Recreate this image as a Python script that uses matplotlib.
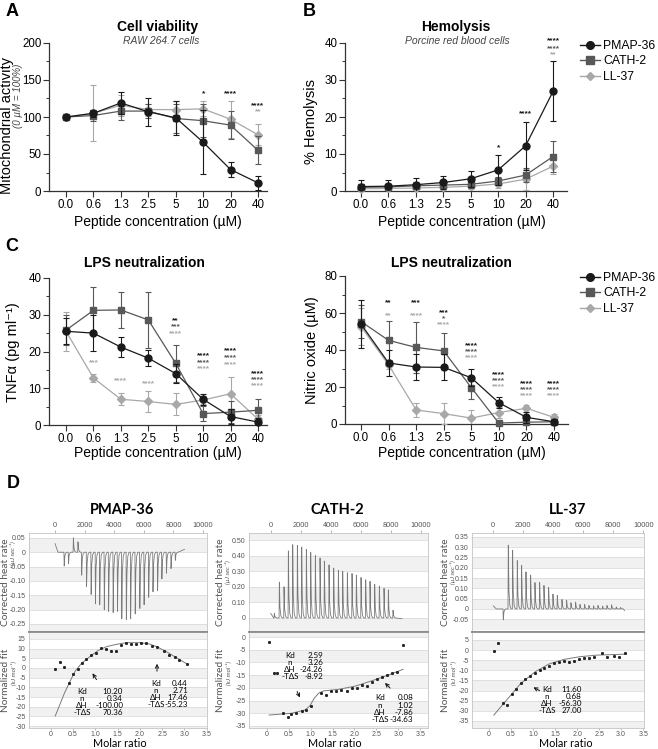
import numpy as np
import matplotlib
matplotlib.use('Agg')
from matplotlib import pyplot as plt
from matplotlib.lines import Line2D
from matplotlib.patches import FancyArrowPatch

W, H = 658, 749
FONT = ['Liberation Sans', 'DejaVu Sans']
ITC_FONT = ['Lato', 'DejaVu Sans']
plt.rcParams['font.family'] = FONT

conc = ['0.0', '0.6', '1.3', '2.5', '5', '10', '20', '40']
peptides = ['PMAP-36', 'CATH-2', 'LL-37']
colors = ['#1a1a1a', '#585858', '#a8a8a8']
markers = ['o', 's', 'D']
msizes = [5, 5, 4]

# A - cell viability, RAW 264.7 (% of 0 uM)
via_pmap = [100, 105, 119, 107, 99, 66, 29, 11]
via_pmap_err = [2, 5, 15, 19, 23, 43, 10, 9]
via_cath = [100, 102, 108, 108, 98, 95, 89, 55]
via_cath_err = [2, 8, 12, 10, 20, 22, 19, 19]
via_ll = [100, 105, 116, 110, 110, 111, 97, 76]
via_ll_err = [2, 38, 14, 8, 11, 10, 25, 14]

# B - hemolysis (%)
hem_pmap = [1.2, 1.3, 1.7, 2.3, 3.3, 5.7, 12.2, 26.9]
hem_pmap_err = [1.7, 1.6, 1.9, 1.7, 2.1, 4.1, 6.4, 8.1]
hem_cath = [1.0, 1.1, 1.4, 1.6, 1.8, 2.7, 4.3, 9.3]
hem_cath_err = [0.8, 0.8, 0.9, 0.9, 1.0, 1.2, 1.8, 4.2]
hem_ll = [0.6, 0.7, 0.8, 1.0, 1.3, 1.9, 3.2, 6.7]
hem_ll_err = [0.5, 0.5, 0.6, 0.6, 0.8, 1.0, 2.8, 2.0]

# C - TNF-alpha (pg/ml)
tnf_pmap = [25.5, 25.0, 21.2, 18.2, 14.0, 7.0, 2.3, 0.8]
tnf_pmap_err = [3.5, 4.9, 2.8, 2.1, 2.6, 1.5, 2.0, 1.0]
tnf_cath = [25.8, 31.2, 31.3, 28.6, 16.8, 3.1, 3.5, 4.0]
tnf_cath_err = [4.0, 6.4, 5.0, 7.7, 5.0, 2.0, 3.0, 3.0]
tnf_ll = [25.5, 12.8, 7.0, 6.4, 5.6, 6.8, 8.5, 1.6]
tnf_ll_err = [5.3, 1.1, 1.6, 2.9, 3.0, 1.2, 4.6, 1.0]

# C - nitric oxide (uM)
no_pmap = [54.0, 33.0, 30.8, 30.6, 25.0, 11.5, 3.6, 1.2]
no_pmap_err = [13.0, 7.0, 7.0, 7.0, 4.7, 3.0, 3.0, 1.0]
no_cath = [55.4, 45.2, 41.4, 39.5, 19.7, 0.5, 1.0, 1.2]
no_cath_err = [9.0, 10.4, 13.6, 9.7, 6.0, 1.0, 1.0, 1.0]
no_ll = [52.7, 32.0, 7.6, 5.6, 3.2, 6.2, 8.5, 3.6]
no_ll_err = [10.0, 2.0, 3.8, 5.7, 4.3, 3.0, 1.8, 1.6]

# significance marks: (concentration index, y value, text, peptide index)
stars_via = [(5, 132, '*', 0), (6, 132, '****', 0), (7, 115, '****', 0), (7, 107, '**', 2)]
stars_hem = [(5, 11.8, '*', 0), (6, 21.0, '****', 0), (7, 40.5, '****', 0),
             (7, 38.5, '****', 1), (7, 36.7, '**', 2)]
stars_tnf = [(1, 17.0, '***', 2), (2, 12.1, '****', 2), (3, 11.1, '****', 2),
             (4, 28.5, '**', 0), (4, 26.7, '***', 1), (4, 24.9, '****', 2),
             (5, 18.8, '****', 0), (5, 17.0, '****', 1), (5, 15.2, '****', 2),
             (6, 20.1, '****', 0), (6, 18.3, '****', 1), (6, 16.5, '****', 2),
             (7, 13.9, '****', 0), (7, 12.3, '****', 1), (7, 10.6, '****', 2)]
stars_no = [(1, 65.6, '**', 0), (1, 58.5, '**', 2),
            (2, 65.6, '***', 0), (2, 58.5, '****', 2),
            (3, 59.9, '***', 0), (3, 56.7, '*', 1), (3, 53.4, '****', 2),
            (4, 42.3, '****', 0), (4, 39.0, '****', 1), (4, 35.8, '****', 2),
            (5, 26.8, '****', 0), (5, 23.6, '****', 1), (5, 20.3, '****', 2),
            (6, 21.8, '****', 0), (6, 18.5, '****', 1), (6, 15.3, '****', 2),
            (7, 21.8, '****', 0), (7, 18.5, '****', 1), (7, 15.3, '****', 2)]

# D - ITC raw thermograms: injection time (s) and peak height (uJ/s)
pmap_inj_t = [620, 910, 1240, 1550, 1800, 2130, 2440, 2730, 3020, 3330, 3620, 3930, 4220,
              4510, 4820, 5110, 5420, 5730, 6020, 6330, 6620, 6930, 7220, 7530, 7840, 8130]
pmap_inj_peak = [-0.048, -0.04, 0.05, 0.036, -0.08, -0.12, -0.147, -0.18, -0.183, -0.2,
                 -0.206, -0.21, -0.206, -0.232, -0.235, -0.232, -0.215, -0.196, -0.183,
                 -0.157, -0.138, -0.134, -0.093, -0.073, -0.057, -0.028]
cath_inj_t = [244, 578, 889, 1178, 1467, 1778, 2067, 2378, 2667, 2978, 3289, 3578, 3889,
              4200, 4511, 4800, 5111, 5422, 5711, 6022, 6333, 6622, 6933, 7244, 7556,
              7844, 8156]
cath_inj_peak = [0.03, 0.23, 0.20, 0.43, 0.47, 0.465, 0.455, 0.44, 0.42, 0.40, 0.385,
                 0.365, 0.34, 0.32, 0.305, 0.30, 0.29, 0.285, 0.275, 0.26, 0.245, 0.235,
                 0.215, 0.205, 0.19, 0.18, 0.05]
ll_inj_t = [667, 1000, 1289, 1600, 1889, 2178, 2489, 2778, 3089, 3378, 3689, 3978, 4267,
            4578, 4889, 5178, 5489, 5778, 6089, 6378, 6689, 6978, 7289, 7578, 7889, 8200,
            8489]
ll_inj_peak = [-0.053, 0.31, 0.285, 0.235, 0.212, 0.18, 0.165, 0.128, 0.13, 0.114, 0.105,
               0.072, 0.066, 0.046, 0.042, 0.03, 0.033, 0.022, 0.022, 0.017, 0.015, 0.017,
               0.014, 0.017, 0.02, 0.01, 0.008]

# D - normalized fit: molar ratio vs heat (kJ/mol), and fitted curve
pmap_mr = [0.10, 0.20, 0.29, 0.41, 0.50, 0.60, 0.69, 0.80, 0.90, 1.01, 1.12, 1.23, 1.35,
           1.46, 1.57, 1.68, 1.80, 1.91, 2.02, 2.13, 2.28, 2.39, 2.54, 2.66, 2.78, 2.89, 3.06]
pmap_q = [-0.7, 3.3, 0.7, -7.9, -3.1, -0.5, 2.4, 4.5, 6.7, 7.6, 10.2, 9.7, 9.0, 8.8, 11.9,
          12.8, 12.4, 12.4, 12.8, 12.8, 11.4, 10.7, 9.0, 6.7, 5.9, 4.1, 2.1]
pmap_fit_x = [0.10, 0.20, 0.31, 0.41, 0.54, 0.69, 0.88, 1.06, 1.25, 1.47, 1.70, 2.00, 2.22,
              2.41, 2.60, 2.78, 3.06]
pmap_fit_y = [-24.8, -19.1, -12.8, -7.9, -1.9, 2.4, 5.9, 9.0, 11.0, 12.2, 13.1, 13.1, 12.4,
              10.7, 8.4, 5.9, 2.1]
cath_mr = [0.05, 0.16, 0.24, 0.36, 0.47, 0.56, 0.66, 0.79, 0.89, 1.01, 1.24, 1.35, 1.47,
           1.58, 1.69, 1.82, 1.94, 2.05, 2.17, 2.28, 2.40, 2.51, 2.63, 2.74, 2.85, 2.97, 3.11]
cath_q = [-2.1, -14.3, -14.3, -30.0, -31.3, -30.3, -30.0, -29.0, -28.7, -27.1, -22.1, -23.0,
          -21.1, -21.1, -20.8, -21.2, -20.2, -19.9, -18.9, -19.3, -17.6, -16.6, -15.6, -14.9,
          -14.3, -13.6, -3.1]
cath_fit_x = [0.05, 0.56, 0.87, 0.98, 1.08, 1.18, 1.29, 1.63, 2.02, 2.40, 2.78, 3.11]
cath_fit_y = [-30.7, -30.0, -28.7, -27.1, -24.1, -22.1, -21.2, -20.6, -19.3, -17.2, -14.9, -12.7]
ll_mr = [0.11, 0.21, 0.31, 0.40, 0.52, 0.61, 0.72, 0.82, 0.93, 1.05, 1.16, 1.26, 1.36, 1.48,
         1.59, 1.70, 1.82, 1.93, 2.05, 2.16, 2.28, 2.39, 2.56, 2.69, 2.83, 2.95, 3.08]
ll_q = [-0.3, 3.6, -26.3, -27.2, -21.7, -19.4, -16.5, -14.5, -12.8, -11.2, -9.9, -8.7, -7.7,
        -6.6, -5.8, -5.4, -5.8, -5.3, -4.6, -4.1, -4.1, -3.6, -1.6, -3.3, -3.0, -3.6, -1.2]
ll_fit_x = [0.11, 0.40, 0.72, 1.05, 1.36, 1.70, 2.05, 2.43, 3.08]
ll_fit_y = [-32.1, -24.7, -16.5, -10.7, -6.9, -4.6, -3.3, -2.5, -2.0]

stat_names = ['Kd', 'n', '\u0394H', '-T\u0394S']
pmap_site1 = ['10.20', '0.34', '-100.00', '70.36']
pmap_site2 = ['0.44', '2.71', '17.46', '-55.23']
cath_site1 = ['2.59', '3.26', '-24.26', '-8.92']
cath_site2 = ['0.08', '1.02', '-7.86', '-34.63']
ll_site1 = ['11.60', '0.68', '-56.30', '27.00']

fig = plt.figure(figsize=(W / 100, H / 100), dpi=100)


def rect(l, t, r, b):
    return [l / W, 1 - b / H, (r - l) / W, (b - t) / H]


def ftext(x, y, s, **kw):
    fig.text(x / W, 1 - y / H, s, **kw)


def fxy(x, y):
    return (x / W, 1 - y / H)


def conc_panel(box, xlim, ylim, ytop, major, minor, means, errs, stars):
    ax = fig.add_axes(rect(*box))
    x = np.arange(len(conc))
    for i in (2, 1, 0):
        cont = ax.errorbar(x, means[i], yerr=errs[i], color=colors[i], marker=markers[i],
                           ms=msizes[i], lw=0.9, elinewidth=0.8, capsize=2.4,
                           capthick=0.8, zorder=5 - i)
        cont[0].set_clip_on(False)
    for xi, yv, s, i in stars:
        ax.text(xi, yv, s, color=colors[i], fontsize=6, ha='center', va='center',
                fontweight='bold')
    ax.set_xlim(*xlim)
    ax.set_ylim(*ylim)
    ax.spines[['top', 'right']].set_visible(False)
    for s in ('left', 'bottom'):
        ax.spines[s].set_linewidth(0.9)
        ax.spines[s].set_color('#333333')
    ax.spines['left'].set_bounds(0, ytop)
    ax.set_xticks(x, conc)
    ax.set_yticks(np.arange(0, ytop + 1, major))
    ax.set_yticks(np.arange(0, ytop + 1, minor), minor=True)
    ax.tick_params(labelsize=8.3, length=4, width=0.8, color='#333333', pad=1.5)
    ax.tick_params(which='minor', length=2.5, width=0.7, color='#333333')
    return ax


# ---- A ----
conc_panel((49, 43, 267, 191), (-0.62, 7.33), (0, 200), 200, 50, 25,
           [via_pmap, via_cath, via_ll], [via_pmap_err, via_cath_err, via_ll_err], stars_via)
ftext(158, 27, 'Cell viability', fontsize=10, fontweight='bold', ha='center', va='center')
ftext(161, 41, 'RAW 264.7 cells', fontsize=7.5, style='italic', color='#444444',
      ha='center', va='center')
ftext(7.5, 126, 'Mitochondrial activity', fontsize=10.5, rotation=90, ha='center',
      va='center')
ftext(18, 96, '(0 \u00b5M = 100%)', fontsize=7, style='italic', rotation=90,
      color='#444444', ha='center', va='center')
ftext(158, 222, 'Peptide concentration (\u00b5M)', fontsize=10, ha='center', va='center')

# ---- B ----
conc_panel((345, 43 - 2 * 3.7, 567, 191), (-0.58, 7.51), (0, 42), 40, 10, 5,
           [hem_pmap, hem_cath, hem_ll], [hem_pmap_err, hem_cath_err, hem_ll_err], stars_hem)
ftext(456, 27, 'Hemolysis', fontsize=10, fontweight='bold', ha='center', va='center')
ftext(457, 41, 'Porcine red blood cells', fontsize=7.5, style='italic', color='#444444',
      ha='center', va='center')
ftext(311, 122, '% Hemolysis', fontsize=10.5, rotation=90, ha='center', va='center')
ftext(462, 222, 'Peptide concentration (\u00b5M)', fontsize=10, ha='center', va='center')

# ---- C ----
conc_panel((49, 278, 267, 425), (-0.62, 7.33), (0, 40), 40, 10, 5,
           [tnf_pmap, tnf_cath, tnf_ll], [tnf_pmap_err, tnf_cath_err, tnf_ll_err], stars_tnf)
ftext(144, 263, 'LPS neutralization', fontsize=10, fontweight='bold', ha='center', va='center')
ftext(13, 352, 'TNF\u03b1 (pg ml\u207b\u00b9)', fontsize=10.5, rotation=90, ha='center',
      va='center', family=FONT)
ftext(158, 453, 'Peptide concentration (\u00b5M)', fontsize=10, ha='center', va='center')

conc_panel((345, 276, 568, 424), (-0.58, 7.51), (0, 80), 80, 20, 10,
           [no_pmap, no_cath, no_ll], [no_pmap_err, no_cath_err, no_ll_err], stars_no)
ftext(451, 263, 'LPS neutralization', fontsize=10, fontweight='bold', ha='center', va='center')
ftext(312, 350, 'Nitric oxide (\u00b5M)', fontsize=10.5, rotation=90, ha='center', va='center')
ftext(462, 453, 'Peptide concentration (\u00b5M)', fontsize=10, ha='center', va='center')

handles = [Line2D([], [], color=colors[i], marker=markers[i], ms=msizes[i] + 0.5, lw=1.0)
           for i in range(3)]
for ytop in (40, 272):
    fig.legend(handles, peptides, loc='upper left', bbox_to_anchor=fxy(580, ytop),
               frameon=False, fontsize=8.8, handlelength=1.6, handletextpad=0.3,
               labelspacing=0.28, borderpad=0, borderaxespad=0)

for letter, x, y in (('A', 12, 11), ('B', 309, 11), ('C', 12, 247), ('D', 13, 484)):
    ftext(x, y, letter, fontsize=13, fontweight='bold', ha='center', va='center')


# ---- D: ITC ----
def band_axis(ax, ticks, labels, lim):
    step = ticks[1] - ticks[0]
    edges = [ticks[0] - step] + list(ticks) + [ticks[-1] + step]
    for k in range(0, len(edges) - 1, 2):
        ax.axhspan(edges[k], edges[k + 1], color='#f1f1f1', lw=0, zorder=0)
    for v in ticks:
        ax.axhline(v, color='#d6d6d6', lw=0.5, zorder=0.5)
    ax.set_ylim(*lim)
    ax.set_yticks(ticks, labels)
    ax.tick_params(axis='y', length=0, labelsize=5, labelcolor='#555555', pad=2.5)
    for s in ax.spines.values():
        s.set_color('#c4c4c4')
        s.set_linewidth(0.6)


def itc_panel(l, r, title, xcenter, top_xlim, top_lim, top_ticks, top_labels,
              inj_t, inj_peak, trace_start, trace_end,
              bot_xlim, bot_lim, bot_ticks, mr, q, fit_x, fit_y, sites, arrows,
              lab_x, sub_dx, sub_y):
    axt = fig.add_axes(rect(l, 533, r, 632))
    axb = fig.add_axes(rect(l, 632, r, 728))

    t = [0, 200]
    y = [trace_start, 0]
    for ti, p in zip(inj_t, inj_peak):
        t += [ti - 20, ti, ti + 40, ti + 100, ti + 180]
        y += [0, p, 0.3 * p, 0.06 * p, 0]
    t.append(8750)
    y.append(trace_end)
    axt.plot(t, y, color='#7a7a7a', lw=0.6, zorder=3)
    band_axis(axt, top_ticks, top_labels, top_lim)
    axt.set_xlim(*top_xlim)
    axt.xaxis.tick_top()
    axt.set_xticks(np.arange(0, 10001, 2000))
    axt.tick_params(axis='x', length=2, width=0.5, color='#999999', labelsize=5.3,
                    labelcolor='#555555', pad=1)
    axt.spines['bottom'].set_color('#8c8c8c')
    axt.spines['bottom'].set_linewidth(1.3)

    axb.plot(fit_x, fit_y, color='#7a7a7a', lw=0.7, zorder=3)
    axb.plot(mr, q, ls='none', marker='s', ms=1.1, color='#222222', zorder=4)
    band_axis(axb, bot_ticks, [f'{v:g}' for v in bot_ticks], bot_lim)
    axb.set_xlim(*bot_xlim)
    xt = np.arange(0, 3.6, 0.5)
    axb.set_xticks(xt, ['0'] + [f'{v:.1f}' for v in xt[1:]])
    axb.tick_params(axis='x', length=1.5, width=0.5, color='#999999', labelsize=5,
                    labelcolor='#555555', pad=1)
    axb.spines['top'].set_color('#8c8c8c')
    axb.spines['top'].set_linewidth(1.3)

    for vals, lx, vx, y0 in sites:
        for k, (nm, v) in enumerate(zip(stat_names, vals)):
            ftext(lx, y0 + 7.3 * k, nm, fontsize=5.8, ha='center', va='center',
                  family=ITC_FONT)
            ftext(vx, y0 + 7.3 * k, v, fontsize=5.8, ha='right', va='center',
                  family=ITC_FONT)
    for (x0, y0), (x1, y1) in arrows:
        fig.add_artist(FancyArrowPatch(
            fxy(x0, y0), fxy(x1, y1), transform=fig.transFigure, arrowstyle='->',
            mutation_scale=6, lw=0.7, color='#111111'))

    ftext(xcenter, 510, title, fontsize=10.5, fontweight='bold', ha='center',
          va='center', family=ITC_FONT)
    ftext(xcenter - 2, 749, 'Molar ratio', fontsize=7.8, ha='center', va='bottom',
          family=ITC_FONT)
    ftext(lab_x, 582, 'Corrected heat rate', fontsize=7.3, rotation=90, color='#555555',
          ha='center', va='center', family=ITC_FONT)
    ftext(lab_x + sub_dx, sub_y, '(\u00b5J sec\u207b\u00b9)', fontsize=4.6, rotation=90,
          style='italic', color='#555555', ha='center', va='center', family=ITC_FONT)
    ftext(lab_x, 680, 'Normalized fit', fontsize=7.3, rotation=90, color='#555555',
          ha='center', va='center', family=ITC_FONT)
    ftext(lab_x + sub_dx, 673, '(kJ mol\u207b\u00b9)', fontsize=4.6, rotation=90,
          style='italic', color='#555555', ha='center', va='center', family=ITC_FONT)


itc_panel(29, 207, 'PMAP-36', 122, (-1760, 10270), (-0.278, 0.067),
          [-0.25, -0.20, -0.15, -0.10, -0.05, 0, 0.05],
          ['-0.25', '-0.20', '-0.15', '-0.10', '-0.05', '0', '0.05'],
          pmap_inj_t, pmap_inj_peak, 0.03, 0.01,
          (-0.49, 3.51), (-31.0, 18.6), list(range(-30, 16, 5)),
          pmap_mr, pmap_q, pmap_fit_x, pmap_fit_y,
          [(pmap_site1, 82, 123, 691), (pmap_site2, 156, 188, 683)],
          [((98, 682), (91, 671)), ((157, 674), (157, 661))], 6, 7, 553)

itc_panel(249, 428, 'CATH-2', 337, (-1447, 10487), (-0.09, 0.545),
          [0, 0.10, 0.20, 0.30, 0.40, 0.50],
          ['0', '0.10', '0.20', '0.30', '0.40', '0.50'],
          cath_inj_t, cath_inj_peak, 0.03, -0.005,
          (-0.41, 3.68), (-35.8, 2.0), list(range(-35, 1, 5)),
          cath_mr, cath_q, cath_fit_x, cath_fit_y,
          [(cath_site1, 290, 323, 655), (cath_site2, 380, 413, 698)],
          [((296, 689), (301, 700)), ((392, 690), (383, 681))], 221, 7, 572)

itc_panel(472, 644, 'LL-37', 568, (-1420, 10047), (-0.112, 0.369),
          [-0.05, 0, 0.05, 0.10, 0.15, 0.20, 0.25, 0.30, 0.35],
          ['-0.05', '0', '0.05', '0.10', '0.15', '0.20', '0.25', '0.30', '0.35'],
          ll_inj_t, ll_inj_peak, 0.015, -0.008,
          (-0.386, 3.52), (-38.5, 8.95), list(range(-35, 6, 5)),
          ll_mr, ll_q, ll_fit_x, ll_fit_y,
          [(ll_site1, 547, 582, 689)],
          [((542, 692), (531, 686))], 445, 8, 572)

fig.savefig('out.png', dpi=100)
